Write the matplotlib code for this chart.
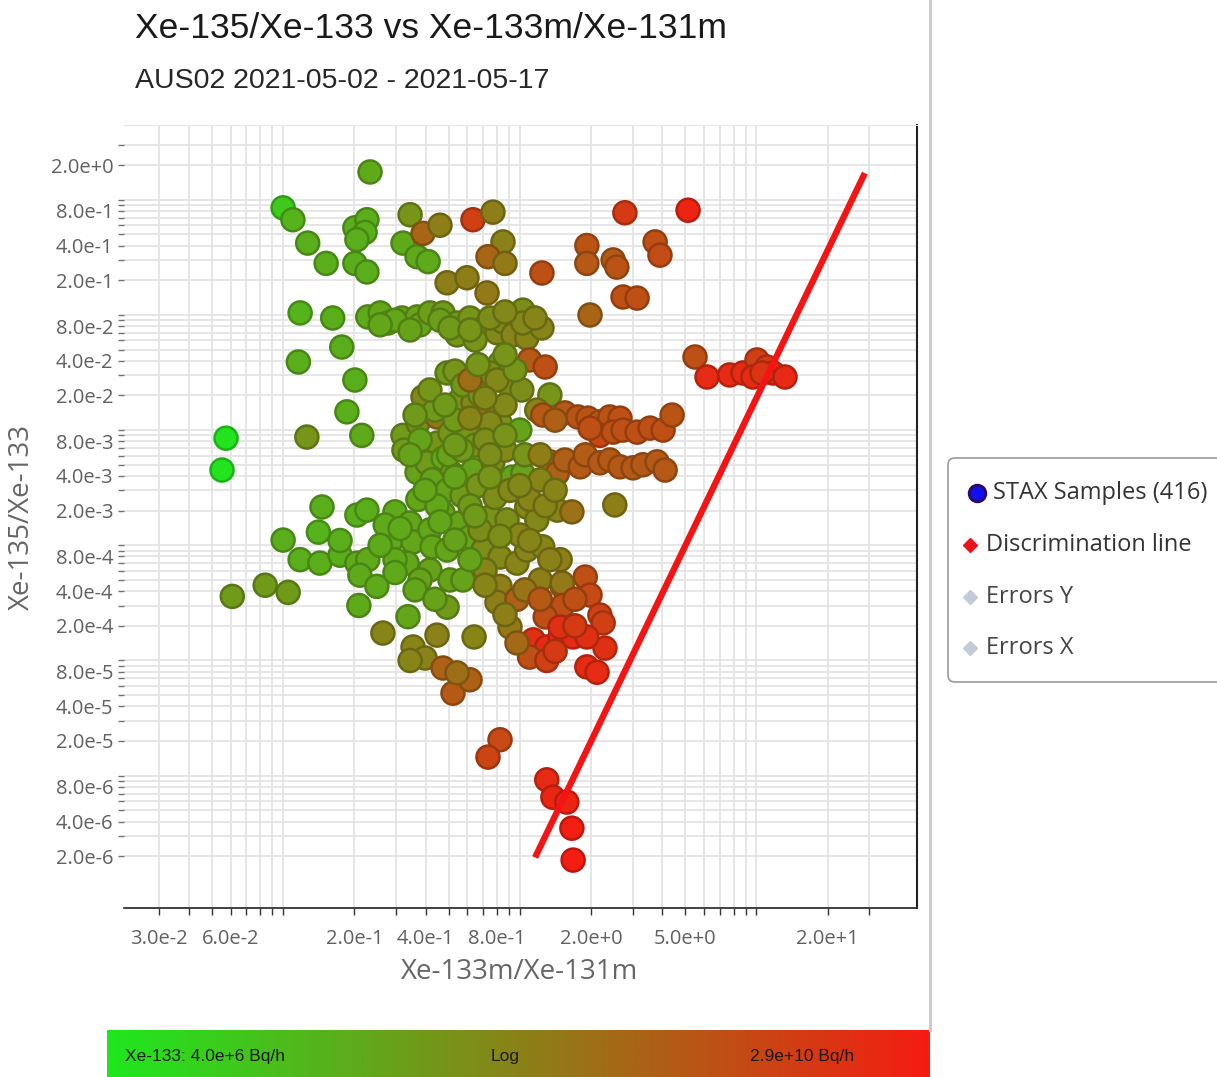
import numpy as np
import matplotlib
matplotlib.use("Agg")
import matplotlib.pyplot as plt
from matplotlib.colors import LinearSegmentedColormap, LogNorm
from matplotlib.ticker import FixedLocator, FixedFormatter, NullLocator
from matplotlib.patches import FancyBboxPatch

# STAX samples: Xe-133m/Xe-131m, Xe-135/Xe-133 and Xe-133 activity (Bq/h)
ratio_133m_131m = [
    0.233, 0.100, 0.110, 0.127, 0.152, 0.201, 0.226, 0.222, 0.205, 0.201,
    0.226, 0.344, 0.321, 0.368, 0.410, 0.390, 0.460, 0.634, 0.770, 0.849,
    0.734, 0.866, 0.493, 0.598, 0.727, 1.24, 2.78, 5.14, 1.92, 1.92,
    2.48, 2.57, 3.73, 3.91, 2.73, 3.13, 1.98,
    0.118, 0.162, 0.228, 0.257, 0.277, 0.318, 0.368, 0.379, 0.417, 0.474,
    0.543, 0.543, 0.616, 0.699, 0.801, 0.849, 0.936, 1.03, 1.07, 1.24,
    1.03, 0.647, 0.297, 0.460, 0.748,
    0.177, 0.116, 0.201, 0.186, 0.126, 0.215, 0.0574, 0.0552,
    0.493, 0.532, 0.825, 0.748, 0.909, 1.02, 1.34, 0.390, 0.559, 0.634,
    0.727, 0.825, 1.00, 1.10, 1.28, 0.321, 0.371, 0.447, 0.447, 0.507,
    0.598, 0.647, 0.748, 0.368, 0.405, 0.474, 0.517, 0.634, 0.770, 0.927, 1.03,
    0.575, 0.679, 0.438, 0.532, 0.866, 1.18,
    1.25, 1.55, 1.76, 1.94, 2.18, 2.40, 2.65, 2.18, 2.48, 2.73, 3.13, 3.55, 4.03, 4.40, 1.41, 1.98,
    1.34, 1.44, 1.55, 1.80, 1.89, 2.18, 2.40, 2.65, 3.01, 3.31, 3.80, 4.11,
    5.50, 6.18, 7.70, 8.77, 10.05, 11.07, 11.74, 13.2, 9.66, 10.55, 2.52,
    0.146, 0.205, 0.226, 0.297, 0.100, 0.141, 0.118, 0.143, 0.174, 0.205, 0.228, 0.211, 0.249, 0.084, 0.105, 0.061, 0.209,
    0.344, 0.283, 0.354, 0.334, 0.417, 0.474, 0.559, 0.616, 0.426, 0.493, 0.417, 0.507, 0.575, 0.379,
    0.748, 0.883, 1.07, 1.18, 1.44, 0.699, 0.825, 0.973, 1.07, 1.25, 1.48, 1.22, 0.825, 0.801, 0.973, 1.51,
    0.493, 0.337, 0.264, 0.354, 0.398, 0.447, 0.641, 0.474, 0.522, 0.616, 0.543, 0.344, 0.825, 0.734,
    1.89, 1.98, 2.18, 2.25, 2.29, 1.92, 2.12, 1.51, 1.52, 1.28, 0.909, 1.14, 1.30, 1.48, 1.68, 1.92, 1.10, 1.30, 0.973, 1.48,
    1.30, 1.38, 1.58, 1.66, 1.68,
    0.324, 0.379, 0.426, 0.493, 0.570, 0.666, 0.786, 0.909, 1.10, 1.28, 1.66, 0.371, 0.447, 0.616, 0.270, 0.679,
    0.532, 0.297, 0.361, 0.713, 1.00, 0.500, 0.570, 0.713, 0.866, 1.05, 1.22, 0.801, 0.954, 0.417, 0.616, 1.22,
    0.257, 0.344, 0.507, 0.616, 0.866, 1.16, 0.666, 0.866, 0.713, 0.483,
    0.361, 0.616, 0.866, 0.344, 0.532, 0.748, 0.398, 0.532, 0.748, 1.00,
    1.41, 0.312, 0.460, 0.647, 0.825, 1.10, 1.34, 0.616, 0.713, 1.05,
    0.866, 1.22, 1.71, 1.71, 1.41, 0.297, 0.174, 0.257, 0.438,
]
ratio_135_133 = [
    1.74, 0.85, 0.67, 0.42, 0.28, 0.57, 0.67, 0.52, 0.45, 0.28,
    0.236, 0.74, 0.42, 0.32, 0.29, 0.51, 0.60, 0.67, 0.78, 0.43,
    0.32, 0.28, 0.19, 0.21, 0.155, 0.231, 0.77, 0.81, 0.40, 0.28,
    0.30, 0.26, 0.43, 0.33, 0.143, 0.140, 0.0998,
    0.104, 0.094, 0.096, 0.104, 0.085, 0.094, 0.096, 0.082, 0.104, 0.104,
    0.085, 0.067, 0.094, 0.077, 0.070, 0.087, 0.067, 0.110, 0.063, 0.077,
    0.085, 0.0605, 0.090, 0.090, 0.094,
    0.0526, 0.039, 0.0272, 0.0144, 0.0087, 0.0090, 0.0085, 0.0045,
    0.0313, 0.0325, 0.0382, 0.0313, 0.0237, 0.0223, 0.0202, 0.0194, 0.0183, 0.0172,
    0.0141, 0.0115, 0.0100, 0.0406, 0.0353, 0.0090, 0.0115, 0.0130, 0.0077, 0.0094,
    0.0094, 0.0074, 0.0115, 0.0043, 0.0052, 0.0057, 0.0042, 0.0045, 0.0053, 0.0039, 0.0042,
    0.0246, 0.0202, 0.0149, 0.0122, 0.0165, 0.0149,
    0.0135, 0.0141, 0.0130, 0.0127, 0.0118, 0.0130, 0.0127, 0.0090, 0.0096, 0.0100, 0.0096, 0.0104, 0.0100, 0.0135, 0.0122, 0.0104,
    0.0053, 0.0042, 0.0055, 0.0048, 0.0061, 0.0052, 0.0055, 0.0048, 0.0047, 0.0050, 0.0053, 0.0045,
    0.0431, 0.0289, 0.0301, 0.0313, 0.0406, 0.0353, 0.0313, 0.0289, 0.0289, 0.0313, 0.00224,
    0.00215, 0.00183, 0.00202, 0.00195, 0.00111, 0.00130, 0.00075, 0.00070, 0.00082, 0.00070, 0.00075, 0.00055, 0.00044, 0.00045, 0.00039, 0.00036, 0.00030,
    0.00156, 0.00105, 0.00107, 0.00070, 0.00136, 0.00191, 0.00156, 0.00118, 0.00097, 0.00091, 0.00061, 0.00050, 0.00050, 0.00050,
    0.00176, 0.00166, 0.00215, 0.00166, 0.00202, 0.00091, 0.00079, 0.00070, 0.00091, 0.00097, 0.00075, 0.00050, 0.00044, 0.00032, 0.00034, 0.00044,
    0.00029, 0.00024, 0.000173, 0.000131, 0.000105, 0.000166, 0.000160, 8.6e-5, 5.2e-5, 6.8e-5, 7.8e-5, 1.0e-4, 2.05e-5, 1.45e-5,
    0.00053, 0.00037, 0.000248, 0.000212, 0.000128, 8.8e-5, 7.9e-5, 0.00047, 0.00030, 0.000239, 0.000195, 0.000151, 0.000131, 0.000160, 0.000160, 0.000160, 0.000107, 0.000100, 0.000142, 0.000195,
    9.2e-6, 6.5e-6, 5.9e-6, 3.5e-6, 1.85e-6,
    0.0067, 0.0082, 0.0037, 0.0030, 0.0027, 0.0033, 0.0026, 0.0030, 0.0025, 0.0022, 0.00195, 0.0025, 0.0022, 0.0022, 0.0015, 0.00136,
    0.00111, 0.00075, 0.00041, 0.00061, 0.00123, 0.0061, 0.0067, 0.0082, 0.0067, 0.0061, 0.0037, 0.0272, 0.0332, 0.0223, 0.0272, 0.0061,
    0.082, 0.074, 0.077, 0.074, 0.106, 0.094, 0.037, 0.045, 0.019, 0.0165,
    0.0135, 0.0127, 0.0090, 0.0061, 0.0074, 0.0061, 0.0030, 0.0039, 0.0039, 0.0033,
    0.0030, 0.0014, 0.0016, 0.0018, 0.0012, 0.0011, 0.00075, 0.00075, 0.00045, 0.00041,
    0.00025, 0.00034, 0.00034, 0.00020, 0.00012, 0.00058, 0.0011, 0.0010, 0.00034,
]
xe133_bq_h = [
    6e7, 1.5e7, 4e7, 5e7, 5e7, 5e7, 5e7, 5e7, 5e7, 5e7,
    5e7, 1.5e8, 6e7, 6e7, 6e7, 1.2e9, 4e8, 6e9, 4e8, 3.5e8,
    1.2e9, 5e8, 4e8, 4e8, 5e8, 3e9, 8e9, 2e10, 2.5e9, 2e9,
    2e9, 2.5e9, 3e9, 3.5e9, 3e9, 3e9, 1.2e9,
    4e7, 5e7, 6e7, 7e7, 7e7, 8e7, 8e7, 8e7, 1e8, 1.2e8,
    1.3e8, 1.5e8, 1.5e8, 2e8, 2.5e8, 2.5e8, 3e8, 2e8, 3e8, 3e8,
    2.5e8, 1.5e8, 7e7, 1e8, 2e8,
    5e7, 5e7, 5e7, 5e7, 1.5e8, 6e7, 5e6, 5e6,
    1.2e8, 1.5e8, 1.5e8, 2e8, 2e8, 2e8, 1.5e8, 2.5e8, 1.5e8, 2.5e8,
    8e8, 1.5e8, 8e7, 2e9, 3e9, 1.2e8, 2e8, 6e8, 1.5e8, 1.5e8,
    1.5e8, 1.5e8, 2.5e8, 8e7, 1.2e8, 7e7, 1.2e8, 8e7, 2e8, 8e7, 8e7,
    1.3e8, 1.5e8, 1.2e8, 1.2e8, 2.5e8, 3e8,
    2e9, 2e9, 2.5e9, 2.5e9, 2.5e9, 2.5e9, 3e9, 5e9, 3e9, 3e9, 3e9, 3e9, 3e9, 2.5e9, 1.5e9, 3e9,
    1.5e9, 1.5e9, 1.5e9, 2e9, 1.8e9, 2e9, 2e9, 2e9, 2e9, 2e9, 2e9, 2e9,
    3e9, 1.5e10, 1.5e10, 1.5e10, 6e9, 8e9, 1.5e10, 1.5e10, 1.5e10, 1e10, 4e8,
    5e7, 5e7, 5e7, 6e7, 5e7, 4e7, 5e7, 5e7, 5e7, 6e7, 6e7, 6e7, 6e7, 1.2e8, 1.2e8, 1.2e8, 6e7,
    7e7, 6e7, 7e7, 7e7, 7e7, 8e7, 8e7, 7e7, 7e7, 7e7, 8e7, 8e7, 8e7, 8e7,
    1.5e8, 2e8, 2.5e8, 2.5e8, 3e8, 2e8, 2.5e8, 3e8, 3e8, 3e8, 4e8, 4e8, 4e8, 4e8, 1.5e9, 1.5e9,
    1.2e8, 7e7, 3e8, 3e8, 3.5e8, 3.5e8, 3e8, 1.5e9, 2e9, 1.5e9, 8e8, 3e8, 4e9, 5e9,
    3e9, 4e9, 6e9, 6e9, 1.2e10, 1.5e10, 1.5e10, 5e8, 3e9, 3e9, 5e8, 1.2e10, 1.5e10, 1.5e10, 1.5e10, 1.2e10, 3e9, 6e9, 1e9, 1.2e10,
    1.5e10, 1.8e10, 2e10, 2.5e10, 2.8e10,
    1.2e8, 8e7, 8e7, 8e7, 1.2e8, 1.5e8, 2e8, 2.5e8, 3e8, 3e8, 7e8, 7e7, 7e7, 1.2e8, 6e7, 2e8,
    8e7, 6e7, 7e7, 3e8, 3e8, 8e7, 1.2e8, 2e8, 2.5e8, 1.5e8, 3e8, 2.5e8, 1.5e8, 1.5e8, 8e8, 4e8,
    7e7, 8e7, 1.2e8, 1.5e8, 2.5e8, 3e8, 1.5e8, 1.5e8, 2.5e8, 1.2e8,
    1.2e8, 3e8, 1.5e8, 8e7, 1.2e8, 2e8, 7e7, 8e7, 1.5e8, 2.5e8,
    3e8, 6e7, 7e7, 1.2e8, 2e8, 3e8, 3.5e8, 8e7, 3e8, 6e8,
    4e8, 2e9, 3e9, 8e9, 8e9, 6e7, 5e7, 6e7, 8e7,
]
n_samples = 416

# discrimination line end points
disc_x = [1.16, 28.7]
disc_y = [1.95e-6, 1.7]

# colour scale range of Xe-133 activity
act_min, act_max = 4.0e6, 2.9e10

x_tick_labelled = [0.03, 0.06, 0.2, 0.4, 0.8, 2, 5, 20]
y_tick_labelled = [2e-6, 4e-6, 8e-6, 2e-5, 4e-5, 8e-5, 2e-4, 4e-4, 8e-4,
                   2e-3, 4e-3, 8e-3, 2e-2, 4e-2, 8e-2, 2e-1, 4e-1, 8e-1, 2.0]

W, H = 1217, 1077


def sci(v):
    e = int(np.floor(np.log10(v) + 1e-9))
    return f"{v / 10**e:.1f}e{e:+d}"


def decade_ticks(lo, hi):
    out = []
    for k in range(-8, 3):
        for n in range(1, 10):
            v = n * 10.0**k
            if lo * 0.999 <= v <= hi * 1.001:
                out.append(v)
    return out


cmap = LinearSegmentedColormap.from_list("xe133", ["#1ee81e", "#f51c12"])
norm = LogNorm(vmin=act_min, vmax=act_max)

fig = plt.figure(figsize=(W / 100, H / 100), dpi=100)
fig.patch.set_facecolor("white")

# page-level layer in pixel coordinates for titles, legend and colour bar
page = fig.add_axes([0, 0, 1, 1])
page.set_zorder(0)
page.axis("off")

ax = fig.add_axes([124 / W, 1 - 908 / H, 793 / W, 783 / H])
ax.set_zorder(1)
ax.set_xscale("log")
ax.set_yscale("log")
ax.set_xlim(0.02127, 47.66)
ax.set_ylim(7.1e-7, 4.45)

faces = cmap(norm(np.array(xe133_bq_h)))
edges = faces.copy()
edges[:, :3] *= 0.78
ax.scatter(ratio_133m_131m, ratio_135_133, s=275, c=faces,
           edgecolors=edges, linewidths=1.8, zorder=3)
ax.plot(disc_x, disc_y, color="#f41414", lw=4.6, solid_capstyle="butt", zorder=4)

xt = decade_ticks(0.03, 30)
yt = decade_ticks(2e-6, 3)
ax.xaxis.set_major_locator(FixedLocator(xt))
ax.xaxis.set_major_formatter(FixedFormatter(
    [sci(v) if any(abs(v / t - 1) < 1e-6 for t in x_tick_labelled) else "" for v in xt]))
ax.yaxis.set_major_locator(FixedLocator(yt))
ax.yaxis.set_major_formatter(FixedFormatter(
    [sci(v) if any(abs(v / t - 1) < 1e-6 for t in y_tick_labelled) else "" for v in yt]))
ax.xaxis.set_minor_locator(NullLocator())
ax.yaxis.set_minor_locator(NullLocator())

ax.grid(True, which="major", color="#e4e4e4", lw=1.3, zorder=0)
ax.set_axisbelow(True)
ax.tick_params(axis="x", direction="out", length=5, width=1, color="#333333",
               pad=10, labelsize=14.5, labelcolor="#606060")
ax.tick_params(axis="y", direction="out", length=4.5, width=1, color="#707070",
               pad=3, labelsize=14.5, labelcolor="#606060")
for lab in ax.get_xticklabels() + ax.get_yticklabels():
    lab.set_family("Open Sans")

ax.spines["left"].set_visible(False)
ax.spines["top"].set_color("#e4e4e4")
ax.spines["bottom"].set_color("#333333")
ax.spines["bottom"].set_linewidth(1.3)
ax.spines["right"].set_color("#222222")
ax.spines["right"].set_linewidth(1.5)

page.text(520, 972, "Xe-133m/Xe-131m", fontsize=20, color="#666666",
          family="Open Sans", ha="center", va="center")
page.text(22, 517, "Xe-135/Xe-133", fontsize=20, color="#666666",
          family="Open Sans", ha="center", va="center", rotation=90)

page.text(135, 28, "Xe-135/Xe-133 vs Xe-133m/Xe-131m", fontsize=25.5,
          family="Liberation Sans", color="#1a1a1a", va="center")
page.text(135, 81, "AUS02 2021-05-02 - 2021-05-17", fontsize=20.5,
          family="Liberation Sans", color="#262626", va="center")

# panel separator
page.plot([930, 930], [0, 1030], color="#cccccc", lw=2.2)

# legend box
page.add_patch(FancyBboxPatch((948, 458), 300, 224,
                              boxstyle="round,pad=0,rounding_size=7",
                              fc="white", ec="#9a9a9a", lw=1.2))
page.plot(977, 493, "o", ms=12, mfc="#1010ee", mec="#2a0a66", mew=2)
page.text(993, 493, f"STAX Samples ({n_samples})", fontsize=17, family="Open Sans",
          color="#333333", va="center")
page.plot(970, 545, "D", ms=7, mfc="#e8141a", mec="#e8141a")
page.text(986, 545, "Discrimination line", fontsize=17, family="Open Sans",
          color="#333333", va="center")
page.plot(970, 597, "D", ms=7, mfc="#c3ccd6", mec="#c3ccd6")
page.text(986, 597, "Errors Y", fontsize=17, family="Open Sans",
          color="#444444", va="center")
page.plot(970, 648, "D", ms=7, mfc="#c3ccd6", mec="#c3ccd6")
page.text(986, 648, "Errors X", fontsize=17, family="Open Sans",
          color="#444444", va="center")

# colour bar for Xe-133 activity
grad = np.linspace(0, 1, 512)[None, :]
page.imshow(grad, cmap=cmap, extent=[107, 930, 1077, 1030], aspect="auto")
page.text(125, 1057, f"Xe-133: {sci(act_min)} Bq/h", fontsize=12.5,
          family="Liberation Sans", color="#1a1a1a", va="center")
page.text(505, 1057, "Log", fontsize=12.5, family="Liberation Sans",
          color="#1a1a1a", va="center", ha="center")
page.text(750, 1057, f"{sci(act_max)} Bq/h", fontsize=12.5,
          family="Liberation Sans", color="#1a1a1a", va="center")

page.set_xlim(0, W)
page.set_ylim(H, 0)

fig.savefig("out.png", dpi=100)
